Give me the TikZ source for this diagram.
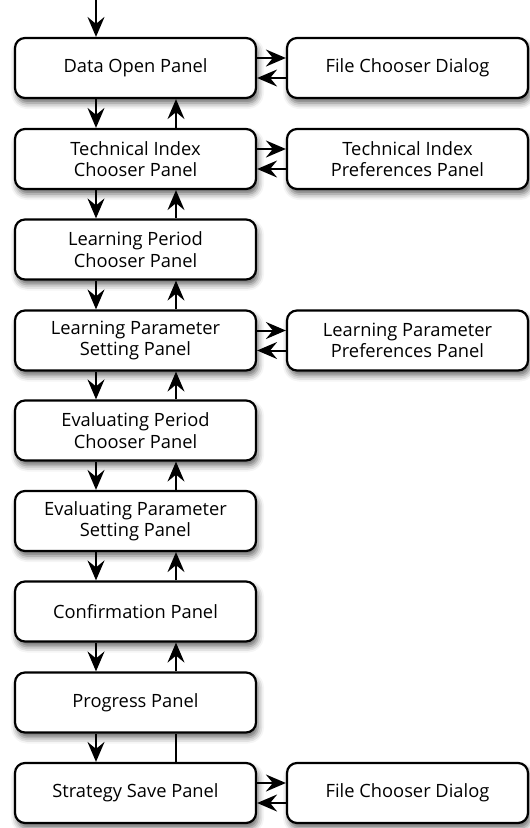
\documentclass[tikz,border=0pt]{standalone}
\usepackage{fontspec}
\setmainfont{Open Sans}
\usetikzlibrary{arrows.meta,shadows.blur,positioning}
\tikzset{
  panel/.style={draw=black,line width=2.2pt,fill=white,rounded corners=10pt,
    minimum width=241pt,minimum height=60pt,align=center,font=\fontsize{18.3}{21.5}\selectfont,
    blur shadow={shadow xshift=2pt,shadow yshift=-5pt,shadow blur radius=6pt,shadow opacity=60}},
  bigtip/.tip={Stealth[length=20pt,width=17pt,inset=7pt]},
  conn/.style={line width=2pt,-bigtip},
  plain/.style={line width=2pt}}
\begin{document}
\begin{tikzpicture}[x=1pt,y=-1pt]
\useasboundingbox (0,0) rectangle (530,828);
\foreach \n/\y/\t in {a/68/Data Open Panel,
  b/159/{Technical Index\\Chooser Panel},
  c/249.5/{Learning Period\\Chooser Panel},
  d/340.5/{Learning Parameter\\Setting Panel},
  e/430.5/{Evaluating Period\\Chooser Panel},
  f/521/{Evaluating Parameter\\Setting Panel},
  g/611.5/Confirmation Panel,
  h/702.5/Progress Panel,
  i/793/Strategy Save Panel}
  \node[panel] (\n) at (135.5,\y) {\t};
\node[panel] (ra) at (407.5,68) {File Chooser Dialog};
\node[panel] (rb) at (407.5,159) {Technical Index\\Preferences Panel};
\node[panel] (rd) at (407.5,340.5) {Learning Parameter\\Preferences Panel};
\node[panel] (ri) at (407.5,793) {File Chooser Dialog};
\coordinate (top) at (96,0);
\draw[conn] (top) -- (a.north -| top);
\foreach \u/\l in {a/b,b/c,c/d,d/e,e/f,f/g,g/h,h/i}{
  \draw[conn] (\u.south -| top) -- (\l.north -| top);
}
\foreach \u/\l in {a/b,b/c,c/d,d/e,e/f,f/g,g/h}{
  \draw[conn] ([xshift=80pt]\l.north -| top) -- ([xshift=80pt]\u.south -| top);
}
\draw[plain] ([xshift=80pt]i.north -| top) -- ([xshift=80pt]h.south -| top);
\foreach \l/\r in {a/ra,b/rb,d/rd,i/ri}{
  \draw[conn] ([yshift=10pt]\l.east) -- ([yshift=10pt]\r.west);
  \draw[conn] ([yshift=-10pt]\r.west) -- ([yshift=-10pt]\l.east);
}
\end{tikzpicture}
\end{document}
